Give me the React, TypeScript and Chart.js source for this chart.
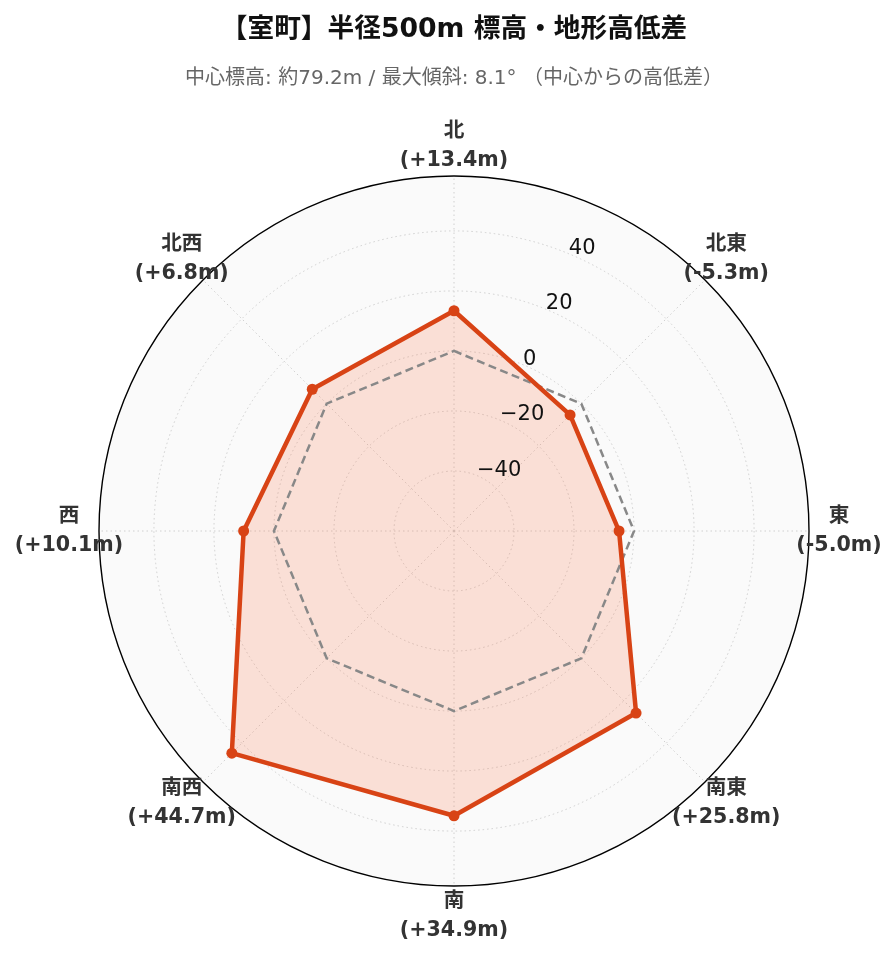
import { useEffect, useRef } from 'react';
import { Chart, registerables } from 'chart.js';

Chart.register(...registerables);

const directions = ['北', '北東', '東', '南東', '南', '南西', '西', '北西'];
const elevationDiffs = [13.4, -5.3, -5.0, 25.8, 34.9, 44.7, 10.1, 6.8];
const baselineValues = [0, 0, 0, 0, 0, 0, 0, 0];
const radialTicks = [-40, -20, 0, 20, 40];
const radialMin = -60;
const radialMax = 58.3;
const titleText = '【室町】半径500m 標高・地形高低差';
const subtitleText = '中心標高: 約79.2m / 最大傾斜: 8.1° （中心からの高低差）';

const FONT = "'DejaVu Sans', 'Noto Sans CJK JP', sans-serif";

const fmtDiff = (v: number) => `(${v >= 0 ? '+' : ''}${v.toFixed(1)}m)`;
const fmtTick = (v: number) => `${v < 0 ? '\u2212' : ''}${Math.abs(v)}`;

const decorPlugin = {
  id: 'decor',
  beforeDraw(chart: any) {
    const s = chart.scales.r;
    const ctx = chart.ctx;
    ctx.save();
    ctx.beginPath();
    ctx.arc(s.xCenter, s.yCenter, s.drawingArea, 0, Math.PI * 2);
    ctx.fillStyle = '#fafafa';
    ctx.fill();
    ctx.restore();
  },
  afterDatasetsDraw(chart: any) {
    const s = chart.scales.r;
    const ctx = chart.ctx;
    ctx.save();
    ctx.beginPath();
    ctx.arc(s.xCenter, s.yCenter, s.drawingArea, 0, Math.PI * 2);
    ctx.strokeStyle = '#000';
    ctx.lineWidth = 1.4;
    ctx.stroke();
    ctx.font = `21px ${FONT}`;
    ctx.fillStyle = '#111';
    ctx.textAlign = 'left';
    ctx.textBaseline = 'alphabetic';
    radialTicks.forEach((v) => {
      const p = s.getPointPosition(0.5, s.getDistanceFromCenterForValue(v));
      ctx.fillText(fmtTick(v), p.x, p.y);
    });
    ctx.restore();
  },
  afterDraw(chart: any) {
    const s = chart.scales.r;
    const ctx = chart.ctx;
    ctx.save();
    ctx.font = `bold 20.6px ${FONT}`;
    ctx.fillStyle = '#333';
    ctx.textAlign = 'center';
    ctx.textBaseline = 'middle';
    const labels: string[] = chart.data.labels;
    const values: number[] = chart.data.datasets[0].data;
    labels.forEach((name, i) => {
      const p = s.getPointPosition(i, s.drawingArea + 30);
      ctx.fillText(name, p.x, p.y - 14.5);
      ctx.fillText(fmtDiff(values[i]), p.x, p.y + 14.5);
    });
    ctx.restore();
  },
};

export default function App() {
  const ref = useRef<HTMLCanvasElement>(null);
  useEffect(() => {
    const chart = new Chart(ref.current!, {
      type: 'radar',
      data: {
        labels: directions,
        datasets: [
          {
            data: elevationDiffs,
            borderColor: '#d84315',
            backgroundColor: 'rgba(255,87,34,0.16)',
            borderWidth: 4.5,
            borderJoinStyle: 'round',
            fill: 'start',
            pointRadius: 5.5,
            pointBackgroundColor: '#d84315',
            pointBorderColor: '#d84315',
            pointBorderWidth: 0,
            tension: 0,
          },
          {
            data: baselineValues,
            borderColor: '#888',
            borderWidth: 2.5,
            borderDash: [8, 4.5],
            fill: false,
            pointRadius: 0,
            tension: 0,
          },
        ],
      },
      options: {
        responsive: true,
        maintainAspectRatio: false,
        animation: false,
        layout: { padding: { left: 91, right: 79, top: 0, bottom: 68 } },
        plugins: {
          legend: { display: false },
          tooltip: { enabled: false },
          filler: { drawTime: 'beforeDatasetsDraw' },
          title: {
            display: true,
            text: titleText,
            color: '#111',
            font: { family: FONT, size: 26.7, weight: 'bold' },
            padding: { top: 6, bottom: 9 },
          },
          subtitle: {
            display: true,
            text: subtitleText,
            color: '#666',
            font: { family: FONT, size: 20 },
            padding: { top: 11.96, bottom: 85 },
          },
        },
        scales: {
          r: {
            min: radialMin,
            max: radialMax,
            startAngle: 0,
            ticks: { display: false, stepSize: 20 },
            afterBuildTicks: (scale: any) => {
              scale.ticks = radialTicks.map((v) => ({ value: v }));
            },
            grid: { circular: true, color: '#d0d0d0', lineWidth: 1 },
            border: { dash: [1.5, 3] },
            angleLines: { display: true, color: '#d0d0d0', lineWidth: 1, borderDash: [1.5, 3] },
            pointLabels: { display: false },
          },
        },
      } as any,
      plugins: [decorPlugin],
    });
    return () => chart.destroy();
  }, []);
  return (
    <div style={{ width: 880, height: 946, position: 'relative' }}>
      <canvas ref={ref} />
    </div>
  );
}
